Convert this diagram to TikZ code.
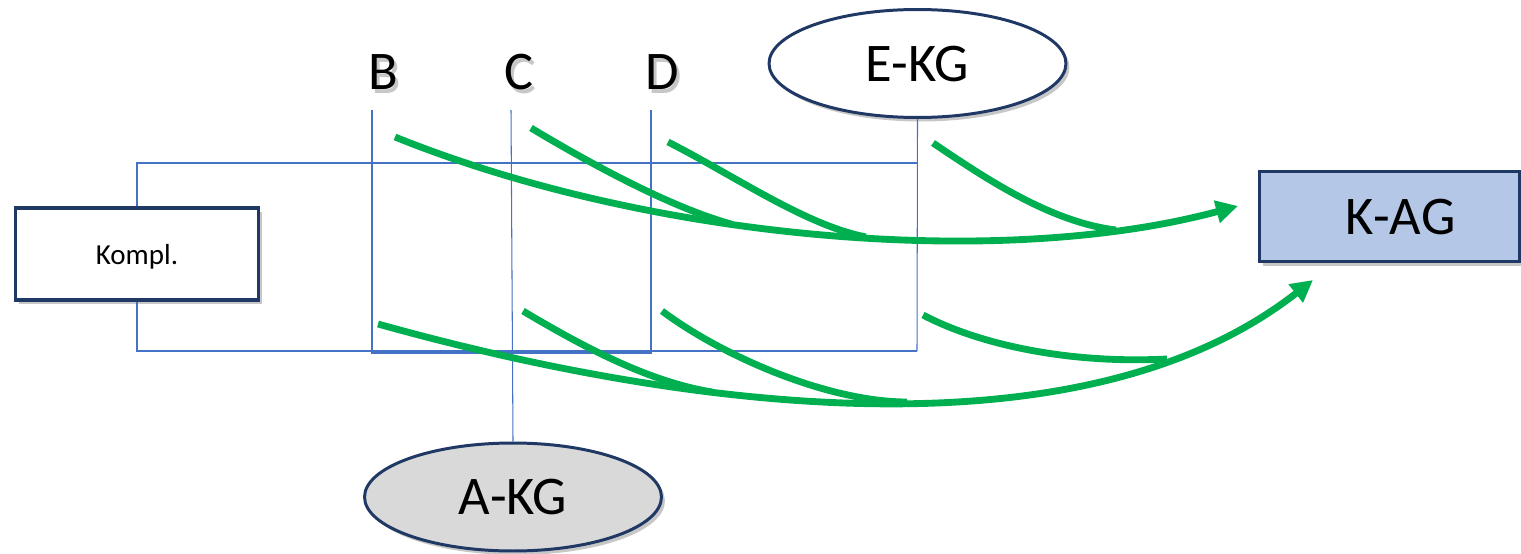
\documentclass[tikz,border=0pt]{standalone}
\usepackage{fontspec}
\setmainfont{Carlito}
\usetikzlibrary{shapes.geometric,arrows.meta,shadows}
\definecolor{navy}{RGB}{32,56,100}
\definecolor{kgreen}{RGB}{0,176,80}
\definecolor{kblue}{RGB}{68,114,196}
\definecolor{kagfill}{RGB}{180,199,231}
\definecolor{akgfill}{RGB}{217,217,217}
\newcommand\kgshadow[1]{\rlap{\kern0.06cm\raisebox{-0.07cm}{\color{black!22}#1}}#1}
\begin{document}
\begin{tikzpicture}[x=0.02cm,y=-0.02cm,
  softshadow/.style={drop shadow={shadow xshift=0.07cm,shadow yshift=-0.08cm,opacity=0.22,fill=black}},
  boxnode/.style={draw=navy,line width=2pt,rectangle,inner sep=0pt,softshadow},
  ellnode/.style={draw=navy,line width=1.7pt,ellipse,inner sep=0pt,minimum width=5.94cm,minimum height=2.16cm,softshadow},
  bigtext/.style={font=\fontsize{31}{31}\selectfont},
  lbl/.style={bigtext,inner sep=0pt},
  gridline/.style={draw=kblue,line width=0.6pt},
  flow/.style={draw=kgreen,line width=3.9pt},
  flowarrow/.style={flow,-{Triangle[length=12.5pt,width=12.5pt]}},
]
\useasboundingbox (0,0) rectangle (1521,554);

% nodes
\node[boxnode,fill=white,minimum width=4.86cm,minimum height=1.84cm,font=\fontsize{16.5}{16.5}\selectfont,text depth=0pt] (kompl) at (137,254) {Kompl.};
\node[boxnode,fill=kagfill,minimum width=5.2cm,minimum height=1.81cm,bigtext,text depth=0pt] (kag) at (1389.5,216.5) {\hspace*{0.44cm}K-AG};
\node[ellnode,fill=white,bigtext,text depth=0pt] (ekg) at (917.5,63.5) {E-KG};
\node[ellnode,fill=akgfill,bigtext,text depth=0pt] (akg) at (513,497) {A-KG};

% column labels with soft text shadow
\node[lbl] (lb) at (383.5,74) {\kgshadow{B}};
\node[lbl] (lc) at (519,74) {\kgshadow{C}};
\node[lbl] (ld) at (662,74) {\kgshadow{D}};

% thin blue frame lines
\coordinate (topR) at (917,163);
\coordinate (botR) at (917,351);
\coordinate (bTop) at (372,110);
\coordinate (cTop) at (511,110);
\coordinate (dTop) at (651,110);
\draw[gridline] (kompl.north) |- (topR);
\draw[gridline] (kompl.south) |- (botR);
\draw[gridline] (ekg.south) -- (botR);
\draw[gridline] (bTop) -- ++(0,243) -| (dTop);
\draw[gridline] (cTop) -- (akg.north);

% upper green flows
\coordinate (bU) at (395,137);
\coordinate (kU) at (1238,206);
\coordinate (cU) at (531,128);
\coordinate (mC) at (731,224);
\coordinate (dU) at (668,142);
\coordinate (mD) at (866,237);
\coordinate (eU) at (933,143);
\coordinate (mE) at (1116,230);
\draw[flowarrow] (bU) .. controls (650,240) and (1000,270) .. (kU);
\draw[flow] (cU) .. controls (591,164) and (670,207) .. (mC);
\draw[flow] (dU) .. controls (735,176) and (805,225) .. (mD);
\draw[flow] (eU) .. controls (985,178) and (1050,222) .. (mE);

% lower green flows
\coordinate (bL) at (378,324);
\coordinate (kL) at (1313,280);
\coordinate (cL) at (523,311);
\coordinate (mCL) at (712,392);
\coordinate (dL) at (662,311);
\coordinate (mDL) at (907,402);
\coordinate (eL) at (923,315);
\coordinate (mEL) at (1167,359);
\draw[flowarrow] (bL) .. controls (650,400) and (1070,470) .. (kL);
\draw[flow] (cL) .. controls (585,348) and (650,382) .. (mCL);
\draw[flow] (dL) .. controls (725,358) and (830,402) .. (mDL);
\draw[flow] (eL) .. controls (980,345) and (1070,364) .. (mEL);
\end{tikzpicture}
\end{document}
